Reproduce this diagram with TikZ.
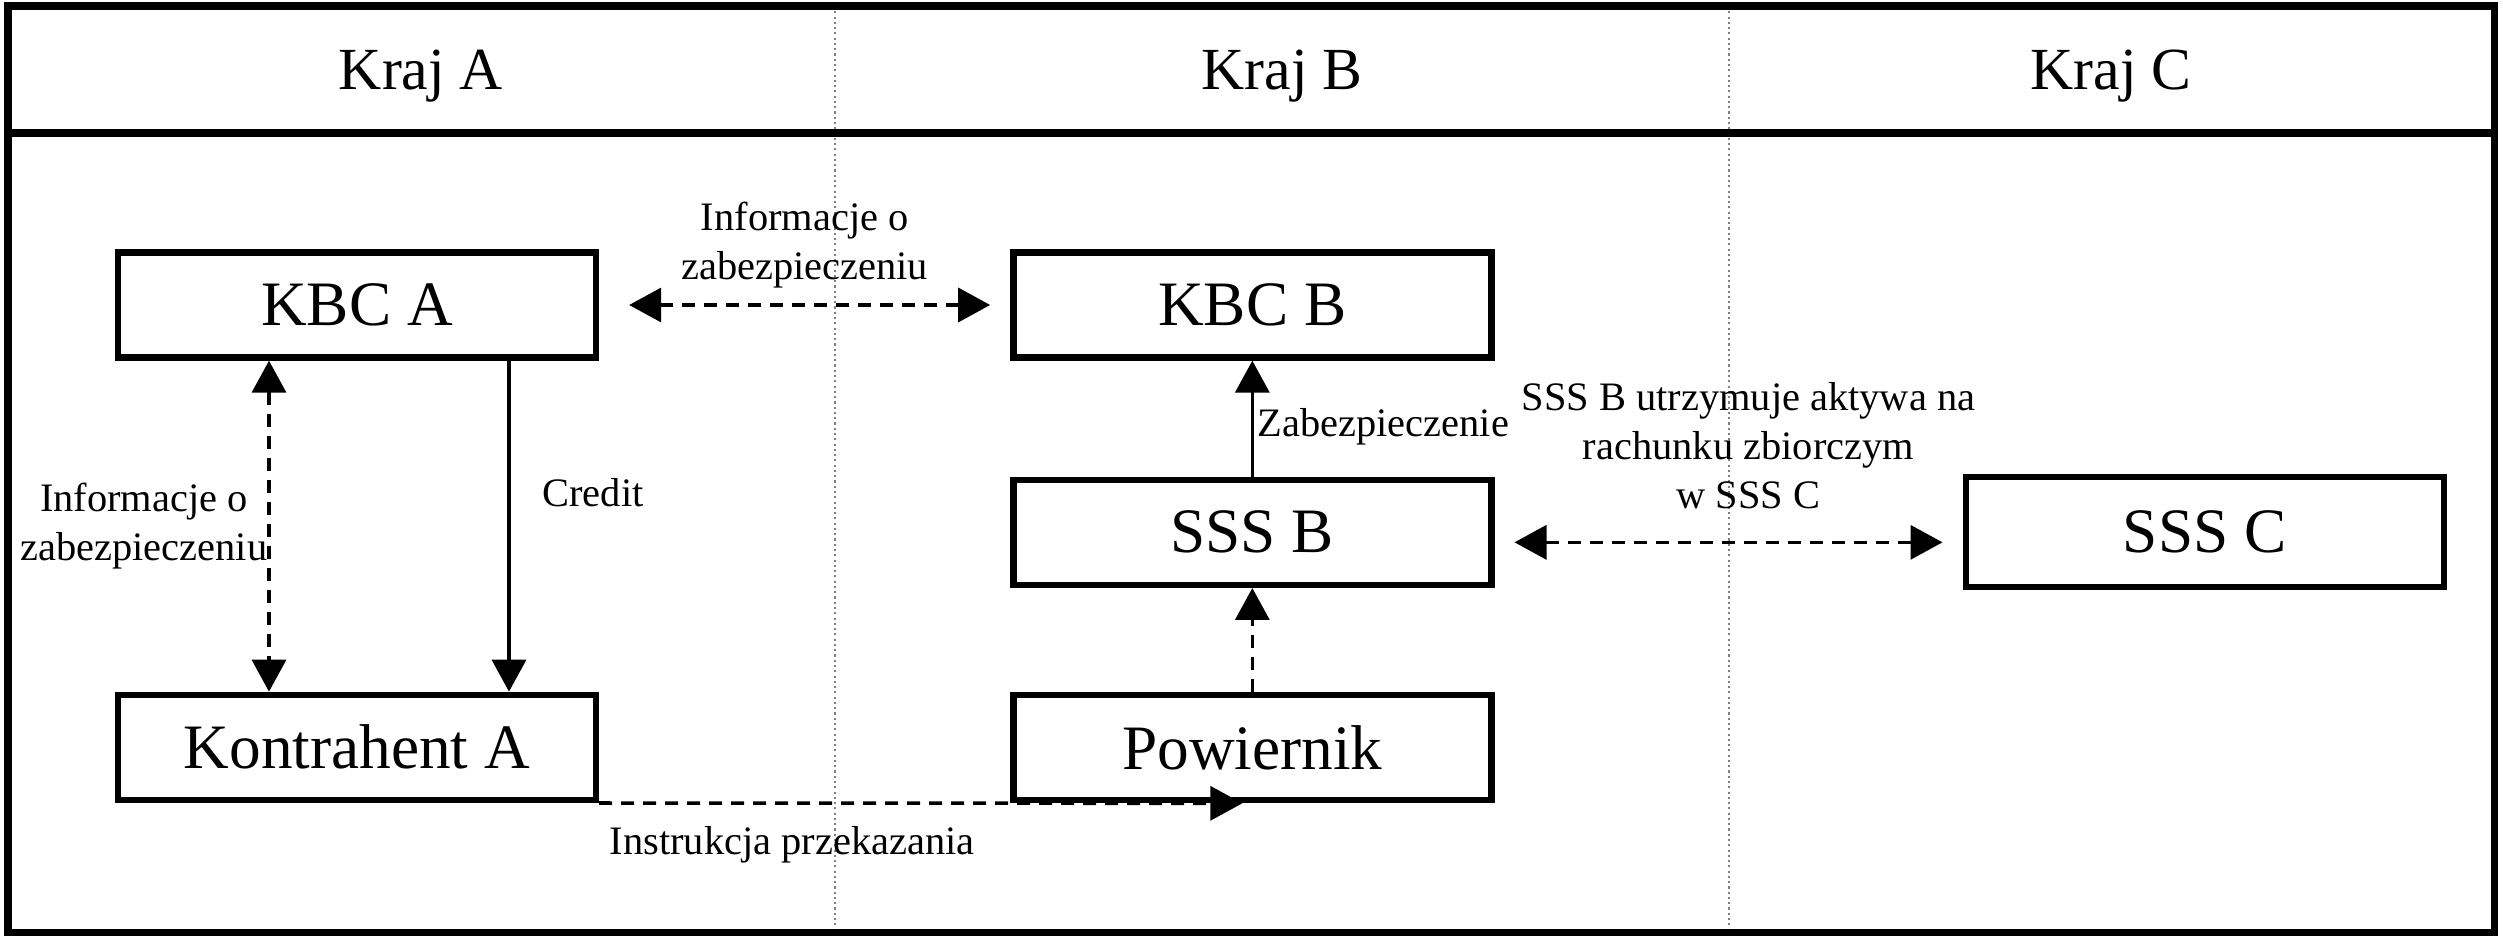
\documentclass[tikz,border=0pt]{standalone}
\usepackage{fontspec}
\setmainfont{Liberation Serif}
\usetikzlibrary{arrows.meta,positioning}

\begin{document}
\begin{tikzpicture}[
  >={Triangle[length=3.2mm,width=3.4mm]},
  box/.style={draw, line width=1.8pt, minimum width=4.78cm, minimum height=1.05cm, align=center, font=\fontsize{18}{21}\selectfont},
  head/.style={font=\fontsize{17}{20}\selectfont},
  lbl/.style={align=center, font=\fontsize{11.5}{14}\selectfont},
  frame/.style={line width=2pt},
  divider/.style={gray, line width=0.6pt, dash pattern=on 0.6pt off 0.9pt},
  line/.style={->, line width=1pt},
  dline/.style={line, dash pattern=on 1.3mm off 0.9mm}
]
\useasboundingbox (0,0) rectangle (25.03,-9.41);

% columns and frame
\draw[divider] (8.35,-0.06) -- (8.35,-9.32);
\draw[divider] (17.29,-0.06) -- (17.29,-9.32);
\draw[frame] (0.08,-0.06) rectangle (24.94,-9.32);
\draw[frame] (0.08,-1.33) -- (24.94,-1.33);

\node[head] (krajA) at (4.21,-0.76) {Kraj A};
\node[head] (krajB) at (12.82,-0.76) {Kraj B};
\node[head] (krajC) at (21.11,-0.76) {Kraj C};

% boxes
\node[box] (kbcA) at (3.57,-3.05) {KBC A};
\node[box, below=3.31cm of kbcA] (kontrA) {Kontrahent A};
\node[box, right=4.11cm of kbcA] (kbcB) {KBC B};
\node[box, below=1.16cm of kbcB] (sssB) {SSS B};
\node[box, below=1.04cm of sssB] (powiernik) {Powiernik};
\node[box, right=4.68cm of sssB, minimum height=1.1cm] (sssC) {SSS C};

% connectors
\draw[dline, <->, shorten <=3mm, shorten >=2mm] (kbcA) -- node[lbl, above=1pt] (infoTop) {Informacje o\\zabezpieczeniu} (kbcB);
\draw[dline, <->] ([xshift=-8.8mm]kbcA.south) -- node[lbl, left, inner sep=0pt] (infoLeft) {Informacje o\\zabezpieczeniu} ([xshift=-8.8mm]kontrA.north);
\draw[line] ([xshift=15.2mm]kbcA.south) -- node[lbl, right=2mm, pos=0.4] (credit) {Credit} ([xshift=15.2mm]kontrA.north);
\draw[line] (sssB) -- node[lbl, right, pos=0.43, inner sep=1pt] (zab) {Zabezpieczenie} (kbcB);
\draw[dline] (powiernik) -- (sssB);
\draw[dline, <->, shorten <=2mm, shorten >=2mm] ([yshift=-1mm]sssB.east) -- node[lbl, above=2mm, xshift=2mm] (sssInfo) {SSS B utrzymuje aktywa na\\rachunku zbiorczym\\w SSS C} ([yshift=-1mm]sssC.west);
\draw[dline] (kontrA.south east) -- node[lbl, below=1mm, pos=0.3] (instr) {Instrukcja przekazania} ([xshift=-1mm]powiernik.south);
\end{tikzpicture}
\end{document}
